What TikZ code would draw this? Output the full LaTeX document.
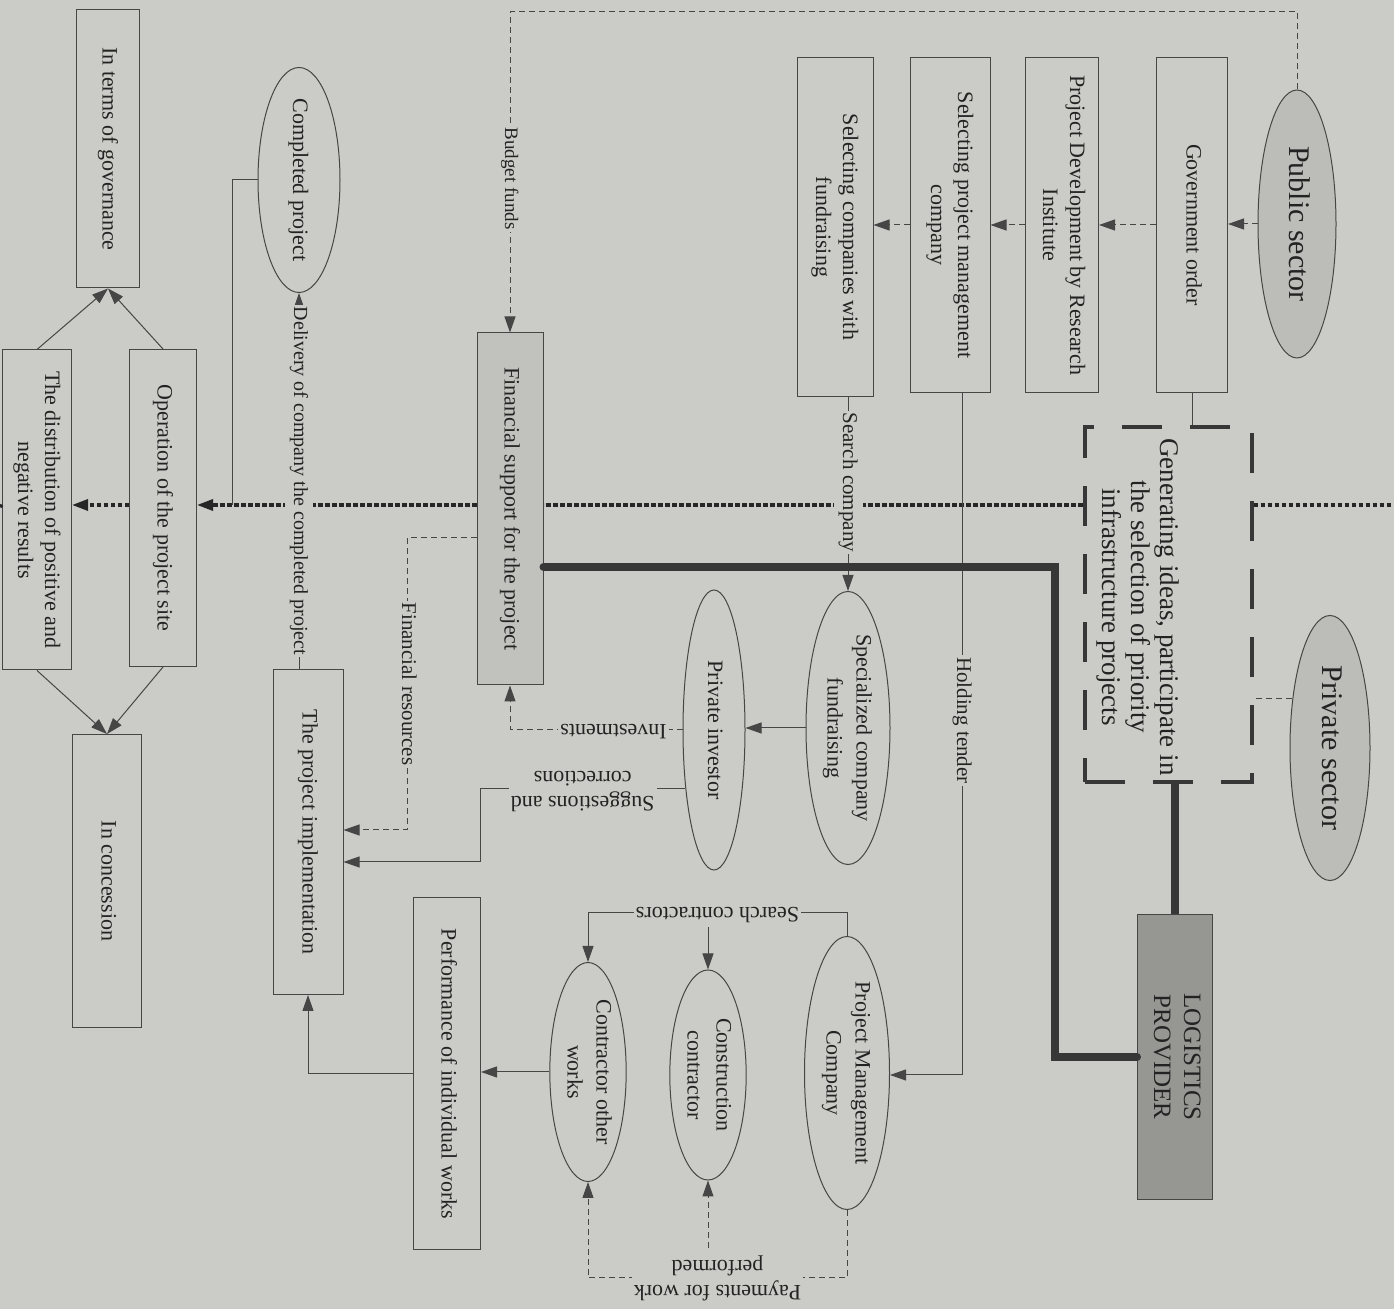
\documentclass[tikz,border=0pt]{standalone}
\usepackage{fontspec}
\setmainfont{Liberation Serif}
\usepackage{graphicx}
\usetikzlibrary{shapes.geometric,arrows.meta,calc}
\definecolor{bgc}{RGB}{203,204,199}
\definecolor{ln}{RGB}{70,70,70}
\definecolor{tx}{RGB}{35,35,35}
\definecolor{pubfill}{RGB}{188,189,184}
\definecolor{finfill}{RGB}{193,194,189}
\definecolor{logfill}{RGB}{150,151,147}
\definecolor{thk}{RGB}{55,55,55}
\newcommand{\vt}[1]{\rotatebox{-90}{\begin{tabular}{@{}c@{}}#1\end{tabular}}}
\newcommand{\ut}[1]{\rotatebox{180}{\begin{tabular}{@{}c@{}}#1\end{tabular}}}
\tikzset{
 box/.style={draw=ln, line width=0.5pt, rectangle, inner sep=0pt, text=tx, font=\fontsize{11}{13.5}\selectfont},
 ell/.style={draw=ln, line width=0.5pt, ellipse, inner sep=-1pt, text=tx, font=\fontsize{11}{14.5}\selectfont},
 lab/.style={fill=bgc, inner sep=1pt, text=tx, font=\fontsize{10.5}{12.5}\selectfont},
 ulab/.style={lab, font=\fontsize{11}{12.5}\selectfont},
 conn/.style={draw=ln, line width=0.5pt},
 dline/.style={conn, dash pattern=on 3pt off 2pt},
 arr/.style={-{Triangle[length=8pt,width=5.5pt]}},
 dotl/.style={draw=black!85, line width=1.6pt, dash pattern=on 2.2pt off 1.3pt},
 thickl/.style={draw=thk, line width=4pt},
 genbox/.style={draw=thk, line width=2pt, dash pattern=on 20pt off 14pt, rectangle, inner sep=0pt},
 gentext/.style={inner sep=0pt, text=tx, font=\fontsize{13.5}{14.5}\selectfont},
}
\begin{document}
\begin{tikzpicture}[x=0.5pt,y=-0.5pt]
\useasboundingbox (0,0) rectangle (1394,1309);
\fill[bgc] (0,0) rectangle (1394,1309);

% coordinates
\coordinate (dR) at (1394,505);
\coordinate (dL) at (0,507);
\coordinate (tkA) at (1055,567);
\coordinate (frA) at (407,538);
\coordinate (frB) at (407,830);
\coordinate (sgA) at (480,786);
\coordinate (sgB) at (480,862);
\coordinate (cj) at (232,505);
\coordinate (scy) at (0,913);
\coordinate (py) at (0,1278);
\coordinate (bt) at (1297,12);
\coordinate (ht) at (962,1075);

% nodes: top row
\node[ell, fill=pubfill, minimum width=39pt, minimum height=134pt, font=\fontsize{15}{18}\selectfont] (pub) at (1297,224) {\vt{Public sector}};
\node[ell, fill=pubfill, minimum width=40pt, minimum height=132.5pt, font=\fontsize{15}{18}\selectfont] (priv) at (1330,748) {\vt{Private sector}};
\node[box, minimum width=35.5pt, minimum height=167.5pt] (gov) at (1192,225) {\vt{Government order}};
\node[box, minimum width=36.5pt, minimum height=167.5pt] (pdri) at (1062,225) {\vt{Project Development by Research\\Institute}};
\node[box, minimum width=40pt, minimum height=167.5pt] (spmc) at (950,225) {\vt{Selecting project management\\company}};
\node[box, minimum width=38pt, minimum height=169.5pt] (scwf) at (835,227) {\vt{Selecting companies with\\fundraising}};
\node[genbox, minimum width=83.5pt, minimum height=177.5pt] (gen) at (1168,605) {};
\node[gentext] (gentxt) at (1137,607) {\vt{Generating ideas, participate in\\the selection of priority\\infrastructure projects}};
\node[box, fill=logfill, minimum width=37.5pt, minimum height=142.5pt, font=\fontsize{12.5}{15}\selectfont] (logi) at (1175,1057) {\vt{LOGISTICS\\PROVIDER}};

% middle
\node[ell, minimum width=42pt, minimum height=136.5pt] (spec) at (848,728) {\vt{Specialized company\\fundraising}};
\node[ell, minimum width=31pt, minimum height=140pt] (inv) at (714,730) {\vt{Private investor}};
\node[ell, minimum width=42.5pt, minimum height=136.5pt] (pmc) at (847,1073) {\vt{Project Management\\Company}};
\node[ell, minimum width=31.5pt, minimum height=105pt] (cons) at (708,1075) {\vt{Construction\\contractor}};
\node[ell, minimum width=31.5pt, minimum height=109.5pt] (cow) at (588,1072) {\vt{Contractor other\\works}};
\node[box, fill=finfill, minimum width=33pt, minimum height=176pt] (fin) at (510,509) {\vt{Financial support for the project}};
\node[box, minimum width=33.5pt, minimum height=176pt] (perf) at (447,1074) {\vt{Performance of individual works}};

% left
\node[ell, minimum width=41pt, minimum height=110pt] (comp) at (299,180) {\vt{Completed project}};
\node[box, minimum width=35pt, minimum height=162.5pt] (impl) at (308,832) {\vt{The project implementation}};
\node[box, minimum width=31.5pt, minimum height=139pt] (govn) at (108,149) {\vt{In terms of governance}};
\node[box, minimum width=33.5pt, minimum height=158.5pt] (oper) at (163,508) {\vt{Operation of the project site}};
\node[box, minimum width=34.5pt, minimum height=160pt] (dist) at (37,510) {\vt{The distribution of positive and\\negative results}};
\node[box, minimum width=34.5pt, minimum height=146.5pt] (conc) at (107,881) {\vt{In concession}};

% dotted horizontal line
\draw[dotl] (gen.east |- dR) -- (dR);
\draw[dotl] (gen.west |- dR) -- (fin.east |- dR);
\draw[dotl,arr] (fin.west |- dR) -- (oper.east |- dR);
\draw[dotl,arr] (oper.west |- dR) -- (dist.east |- dR);
\draw[dotl] (dist.west |- dR) -- (dL);

% public chain
\draw[dline,arr] (pub.west) -- (pub.west -| gov.east);
\draw[dline,arr] (gov.west) -- (gov.west -| pdri.east);
\draw[dline,arr] (pdri.west) -- (pdri.west -| spmc.east);
\draw[dline,arr] (spmc.west) -- (spmc.west -| scwf.east);
\draw[dline,arr] (pub.north) -- (bt) -| node[lab,pos=0.76,font=\fontsize{9.5}{12}\selectfont]{\vt{Budget funds}} (fin.north);
\draw[conn] (gov.south) -- (gov.south |- gen.north);
\draw[dline] (priv.127) -- (priv.127 -| gen.east);

% completed project / delivery
\draw[conn] (comp.west) -| (cj);
\draw[conn,arr] (comp.south |- impl.north) -- node[lab,font=\fontsize{10}{12}\selectfont]{\vt{Delivery of company the completed project}} (comp.south);

% governance / concession
\draw[conn,arr] (oper.north) -- (govn.south);
\draw[conn,arr] (dist.north) -- (govn.south);
\draw[conn,arr] (oper.south) -- (conc.north);
\draw[conn,arr] (dist.south) -- (conc.north);

% financial flows
\draw[dline,arr] (inv.west) -| node[ulab,pos=0.2]{\ut{Investments}} (fin.south);
\draw[dline,arr] (fin.west |- frA) -- (frA) -- node[lab]{\vt{Financial resources}} (frB) -- (frB -| impl.east);
\draw[conn,arr] (inv.244) -- node[ulab]{\ut{Suggestions and\\corrections}} (inv.244 -| sgA) -- (sgB) -- (sgB -| impl.east);

% search company, holding tender
\draw[conn,arr] (spec.north |- scwf.south) -- node[lab,pos=0.44]{\vt{Search company}} (spec.north);
\draw[conn,arr] (spmc.south -| ht) -- node[lab,pos=0.48]{\vt{Holding tender}} (ht) -- (ht -| pmc.east);
\draw[conn,arr] (spec.west) -- (spec.west -| inv.east);

% contractors
\draw[conn,arr] (cons.north |- scy) -- (cons.north);
\draw[conn,arr] (pmc.north) -- (pmc.north |- scy) -- node[ulab]{\ut{Search contractors}} (cow.north |- scy) -- (cow.north);
\draw[dline,arr] (cons.south |- py) -- (cons.south);
\draw[dline,arr] (pmc.south) -- (pmc.south |- py) -- node[ulab]{\ut{Payments for work\\performed}} (cow.south |- py) -- (cow.south);
\draw[conn,arr] (cow.west) -- (cow.west -| perf.east);
\draw[conn,arr] (perf.west) -| (impl.south);

% thick lines
\draw[thickl, line cap=round] (fin.east |- tkA) -- (tkA) |- (logi.west);
\draw[thickl] (gen.south -| logi.north) -- (logi.north);
\end{tikzpicture}
\end{document}
